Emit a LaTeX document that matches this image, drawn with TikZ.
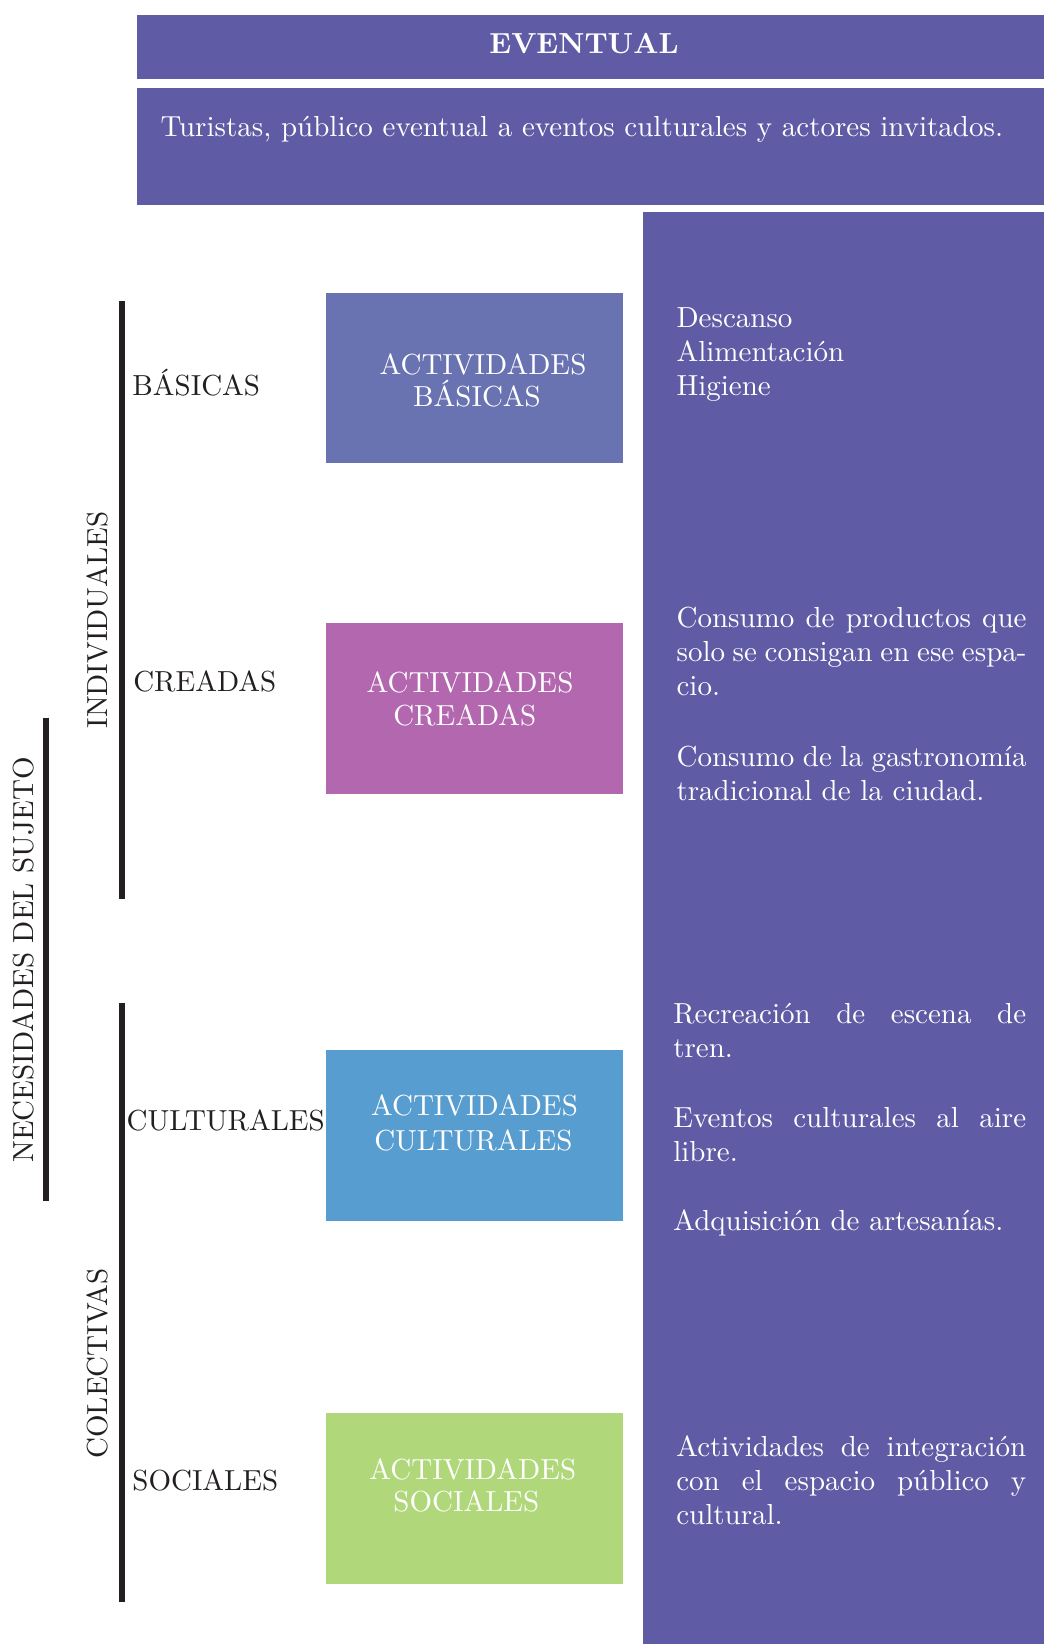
\documentclass[tikz,border=0pt]{standalone}
\usepackage{fontspec}
\usetikzlibrary{fit}
\definecolor{evpurple}{HTML}{5F5BA5}
\definecolor{basblue}{HTML}{6973B1}
\definecolor{crepink}{HTML}{B267AF}
\definecolor{culblue}{HTML}{589DD0}
\definecolor{socgreen}{HTML}{B0D87A}
\definecolor{darktext}{HTML}{231F20}
\newcommand\pxu{0.3516pt}
\AtBeginDocument{\fontsize{10.2pt}{12pt}\selectfont}
\tikzset{
  panel/.style={inner sep=0pt, outer sep=0pt, draw=none},
  wtext/.style={text=white, inner sep=0pt, anchor=base},
  wpara/.style={text=white, inner sep=0pt, anchor=base west},
  ltext/.style={text=darktext, inner sep=0pt, anchor=base west},
  rtext/.style={text=darktext, inner sep=0pt, anchor=base, rotate=90},
  bar/.style={draw=darktext, line width=6*\pxu},
}
\begin{document}
\begin{tikzpicture}[x=0.3516pt, y=-0.3516pt]
\useasboundingbox (0,0) rectangle (1044,1644);
% header panels
\node[panel, fill=evpurple, fit={(137,14.7) (1044,78.6)}] (head) {};
\node[panel, fill=evpurple, fit={(137,88) (1044,204.7)}] (desc) {};
\node[panel, fill=evpurple, fit={(643,212) (1044,1644)}] (col) {};
\node[wtext, font=\bfseries] (evt) at (584,53.3) {EVENTUAL};
\node[wpara] (tur) at (160,136.7) {Turistas, público eventual a eventos culturales y actores invitados.};
% activity boxes
\node[panel, fill=basblue, fit={(326,293) (623,463)}] (bbox) {};
\node[panel, fill=crepink, fit={(326,622.8) (623,793.6)}] (cbox) {};
\node[panel, fill=culblue, fit={(326,1049.9) (623,1220.6)}] (ubox) {};
\node[panel, fill=socgreen, fit={(326,1413.3) (623,1583.5)}] (sbox) {};
\node[wtext] (ba1) at (483,374) {ACTIVIDADES};
\node[wtext] (ba2) at (477,406.5) {BÁSICAS};
\node[wtext] (ca1) at (470,692.4) {ACTIVIDADES};
\node[wtext] (ca2) at (464.8,725.6) {CREADAS};
\node[wtext] (ua1) at (474.5,1115.5) {ACTIVIDADES};
\node[wtext] (ua2) at (473.4,1150.3) {CULTURALES};
\node[wtext] (sa1) at (472.8,1479) {ACTIVIDADES};
\node[wtext] (sa2) at (466.4,1511.6) {SOCIALES};
% left labels
\node[ltext] (lb) at (131.8,395.5) {BÁSICAS};
\node[ltext] (lc) at (132.7,691) {CREADAS};
\node[ltext] (lu) at (126,1130.4) {CULTURALES};
\node[ltext] (ls) at (131.8,1490.4) {SOCIALES};
\node[rtext] (ind) at (107,620) {INDIVIDUALES};
\node[rtext] (colec) at (107,1363.5) {COLECTIVAS};
\node[rtext] (nec) at (33.2,960) {NECESIDADES DEL SUJETO};
% bars
\coordinate (i1) at (121.5,301);
\coordinate (i2) at (121.5,899.3);
\coordinate (c1) at (121.8,1003.3);
\coordinate (c2) at (121.8,1602);
\coordinate (n1) at (45.8,717.5);
\coordinate (n2) at (45.8,1201);
\draw[bar] (i1) -- (i2);
\draw[bar] (c1) -- (c2);
\draw[bar] (n1) -- (n2);
% right column texts
\node[wpara] (p1) at (676,327.7) {\parbox[t]{123.06pt}{Descanso\\Alimentación\\Higiene}};
\node[wpara] (p2) at (676,627) {\parbox[t]{123.06pt}{Consumo de productos que\linebreak solo se consigan en ese espa-\linebreak cio.}};
\node[wpara] (p3) at (676,766) {\parbox[t]{123.06pt}{Consumo de la gastronomía\linebreak tradicional de la ciudad.}};
\node[wpara] (p4) at (672.7,1023) {\parbox[t]{124.1pt}{Recreación de escena de\linebreak tren.}};
\node[wpara] (p5) at (672.7,1127.4) {\parbox[t]{124.1pt}{Eventos culturales al aire\linebreak libre.}};
\node[wpara] (p6) at (672.7,1230.7) {\parbox[t]{124.1pt}{Adquisición de artesanías.}};
\node[wpara] (p7) at (675.7,1456) {\parbox[t]{123.06pt}{Actividades de integración\linebreak con el espacio público y\linebreak cultural.}};
\end{tikzpicture}
\end{document}
